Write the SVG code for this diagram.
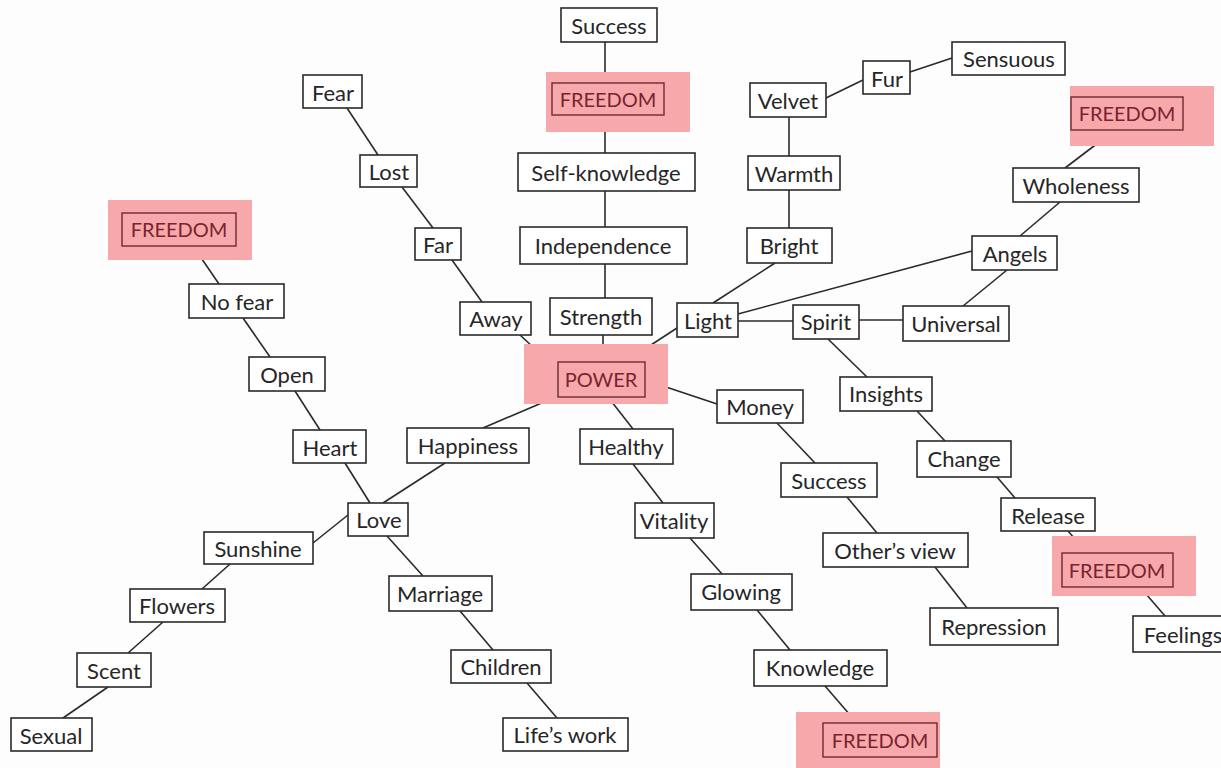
<svg xmlns="http://www.w3.org/2000/svg" width="1221" height="768" viewBox="0 0 1221 768">
<style>
.n rect{fill:#fff;stroke:#2a2a2a;stroke-width:1.6}
.n text{font-family:Lato,"Open Sans",sans-serif;font-size:22px;fill:#262626;text-anchor:middle;dominant-baseline:central}
.f rect.hl{fill:#f7a8ab;stroke:none}
.f rect.bx{fill:#f7a8ab;stroke:#6e2a32;stroke-width:1.4}
.f text{fill:#7a2230;font-size:20px}
.c line{stroke:#2a2a2a;stroke-width:1.6}
</style>
<rect width="1221" height="768" fill="#fdfdfd"/>
<g id="connectors" class="c">
<line x1="605" y1="42" x2="605" y2="83"/>
<line x1="605" y1="115" x2="605" y2="153"/>
<line x1="605" y1="191" x2="605" y2="227"/>
<line x1="605" y1="264" x2="605" y2="298"/>
<line x1="603" y1="335" x2="603" y2="362"/>
<line x1="347" y1="108" x2="378" y2="155"/>
<line x1="402" y1="187" x2="433" y2="228"/>
<line x1="452" y1="260" x2="482" y2="302"/>
<line x1="520" y1="335" x2="560" y2="372"/>
<line x1="677" y1="328" x2="625" y2="362"/>
<line x1="775" y1="263" x2="713" y2="303"/>
<line x1="738" y1="314" x2="972" y2="251"/>
<line x1="738" y1="321" x2="793" y2="321"/>
<line x1="859" y1="320" x2="903" y2="320"/>
<line x1="963" y1="306" x2="1007" y2="270"/>
<line x1="1020" y1="236" x2="1060" y2="202"/>
<line x1="1065" y1="168" x2="1115" y2="130"/>
<line x1="789" y1="117" x2="789" y2="156"/>
<line x1="789" y1="190" x2="789" y2="228"/>
<line x1="826" y1="98" x2="863" y2="80"/>
<line x1="910" y1="72" x2="952" y2="58"/>
<line x1="828" y1="339" x2="867" y2="377"/>
<line x1="917" y1="411" x2="945" y2="441"/>
<line x1="997" y1="477" x2="1015" y2="498"/>
<line x1="1068" y1="531" x2="1087" y2="553"/>
<line x1="1140" y1="587" x2="1165" y2="616"/>
<line x1="645" y1="380" x2="717" y2="404"/>
<line x1="777" y1="423" x2="815" y2="463"/>
<line x1="847" y1="497" x2="877" y2="533"/>
<line x1="935" y1="567" x2="967" y2="608"/>
<line x1="608" y1="397" x2="633" y2="429"/>
<line x1="633" y1="464" x2="663" y2="503"/>
<line x1="690" y1="538" x2="722" y2="574"/>
<line x1="757" y1="610" x2="790" y2="650"/>
<line x1="825" y1="686" x2="857" y2="723"/>
<line x1="565" y1="393" x2="483" y2="428"/>
<line x1="445" y1="463" x2="383" y2="503"/>
<line x1="345" y1="463" x2="370" y2="503"/>
<line x1="295" y1="391" x2="320" y2="430"/>
<line x1="243" y1="318" x2="270" y2="357"/>
<line x1="193" y1="246" x2="219" y2="284"/>
<line x1="348" y1="515" x2="313" y2="543"/>
<line x1="230" y1="564" x2="202" y2="589"/>
<line x1="163" y1="622" x2="128" y2="653"/>
<line x1="108" y1="687" x2="63" y2="718"/>
<line x1="387" y1="536" x2="423" y2="576"/>
<line x1="460" y1="611" x2="493" y2="650"/>
<line x1="527" y1="683" x2="557" y2="718"/>
</g>
<g id="success-top" class="n"><rect x="561" y="8" width="96" height="34"/><text x="609" y="25">Success</text></g>
<g id="freedom-top" class="n f"><rect class="hl" x="546" y="72" width="144" height="60"/><rect class="bx" x="552" y="83" width="112" height="32"/><text x="608" y="99">FREEDOM</text></g>
<g id="self-knowledge" class="n"><rect x="518" y="153" width="177" height="38"/><text x="606" y="172">Self-knowledge</text></g>
<g id="independence" class="n"><rect x="520" y="227" width="167" height="37"/><text x="603" y="245">Independence</text></g>
<g id="strength" class="n"><rect x="550" y="298" width="102" height="37"/><text x="601" y="316">Strength</text></g>
<g id="fear" class="n"><rect x="303" y="75" width="59" height="33"/><text x="333" y="92">Fear</text></g>
<g id="lost" class="n"><rect x="360" y="155" width="57" height="32"/><text x="389" y="171">Lost</text></g>
<g id="far" class="n"><rect x="415" y="228" width="46" height="32"/><text x="438" y="244">Far</text></g>
<g id="away" class="n"><rect x="460" y="302" width="71" height="33"/><text x="496" y="318">Away</text></g>
<g id="freedom-left" class="n f"><rect class="hl" x="108" y="200" width="144" height="60"/><rect class="bx" x="122" y="213" width="114" height="33"/><text x="179" y="229">FREEDOM</text></g>
<g id="no-fear" class="n"><rect x="189" y="284" width="95" height="34"/><text x="237" y="301">No fear</text></g>
<g id="open" class="n"><rect x="249" y="357" width="76" height="34"/><text x="287" y="374">Open</text></g>
<g id="heart" class="n"><rect x="293" y="430" width="73" height="33"/><text x="330" y="447">Heart</text></g>
<g id="love" class="n"><rect x="348" y="503" width="60" height="33"/><text x="379" y="519">Love</text></g>
<g id="happiness" class="n"><rect x="407" y="428" width="122" height="35"/><text x="468" y="445">Happiness</text></g>
<g id="power" class="n f"><rect class="hl" x="524" y="344" width="144" height="60"/><rect class="bx" x="558" y="362" width="87" height="35"/><text x="601" y="379">POWER</text></g>
<g id="light" class="n"><rect x="677" y="303" width="61" height="34"/><text x="708" y="320">Light</text></g>
<g id="velvet" class="n"><rect x="750" y="83" width="76" height="34"/><text x="788" y="100">Velvet</text></g>
<g id="warmth" class="n"><rect x="748" y="156" width="92" height="34"/><text x="794" y="173">Warmth</text></g>
<g id="bright" class="n"><rect x="747" y="228" width="85" height="35"/><text x="789" y="245">Bright</text></g>
<g id="fur" class="n"><rect x="863" y="61" width="47" height="33"/><text x="887" y="78">Fur</text></g>
<g id="sensuous" class="n"><rect x="952" y="42" width="113" height="33"/><text x="1009" y="58">Sensuous</text></g>
<g id="freedom-topright" class="n f"><rect class="hl" x="1070" y="86" width="144" height="60"/><rect class="bx" x="1071" y="97" width="112" height="33"/><text x="1127" y="113">FREEDOM</text></g>
<g id="wholeness" class="n"><rect x="1013" y="168" width="126" height="34"/><text x="1076" y="185">Wholeness</text></g>
<g id="angels" class="n"><rect x="972" y="236" width="85" height="34"/><text x="1015" y="253">Angels</text></g>
<g id="universal" class="n"><rect x="903" y="306" width="106" height="35"/><text x="956" y="323">Universal</text></g>
<g id="spirit" class="n"><rect x="793" y="305" width="66" height="34"/><text x="826" y="321">Spirit</text></g>
<g id="insights" class="n"><rect x="840" y="377" width="92" height="34"/><text x="886" y="393">Insights</text></g>
<g id="change" class="n"><rect x="917" y="441" width="94" height="36"/><text x="964" y="458">Change</text></g>
<g id="release" class="n"><rect x="1001" y="498" width="94" height="33"/><text x="1048" y="515">Release</text></g>
<g id="freedom-right" class="n f"><rect class="hl" x="1052" y="536" width="144" height="60"/><rect class="bx" x="1062" y="553" width="111" height="34"/><text x="1117" y="570">FREEDOM</text></g>
<g id="feelings" class="n"><rect x="1133" y="616" width="95" height="36"/><text x="1183" y="634">Feelings</text></g>
<g id="money" class="n"><rect x="717" y="390" width="86" height="33"/><text x="760" y="406">Money</text></g>
<g id="success-mid" class="n"><rect x="781" y="463" width="96" height="34"/><text x="829" y="480">Success</text></g>
<g id="others-view" class="n"><rect x="823" y="533" width="145" height="34"/><text x="895" y="550">Other’s view</text></g>
<g id="repression" class="n"><rect x="930" y="608" width="128" height="37"/><text x="994" y="626">Repression</text></g>
<g id="healthy" class="n"><rect x="580" y="429" width="93" height="35"/><text x="626" y="446">Healthy</text></g>
<g id="vitality" class="n"><rect x="635" y="503" width="79" height="35"/><text x="674" y="520">Vitality</text></g>
<g id="glowing" class="n"><rect x="691" y="574" width="101" height="36"/><text x="741" y="591">Glowing</text></g>
<g id="knowledge" class="n"><rect x="754" y="650" width="133" height="36"/><text x="820" y="667">Knowledge</text></g>
<g id="freedom-bottom" class="n f"><rect class="hl" x="796" y="712" width="144" height="56"/><rect class="bx" x="823" y="723" width="114" height="34"/><text x="880" y="740">FREEDOM</text></g>
<g id="sunshine" class="n"><rect x="204" y="532" width="109" height="32"/><text x="258" y="548">Sunshine</text></g>
<g id="flowers" class="n"><rect x="130" y="589" width="95" height="33"/><text x="177" y="605">Flowers</text></g>
<g id="scent" class="n"><rect x="77" y="653" width="74" height="34"/><text x="114" y="670">Scent</text></g>
<g id="sexual" class="n"><rect x="11" y="718" width="81" height="33"/><text x="51" y="735">Sexual</text></g>
<g id="marriage" class="n"><rect x="389" y="576" width="103" height="35"/><text x="440" y="593">Marriage</text></g>
<g id="children" class="n"><rect x="451" y="650" width="100" height="33"/><text x="501" y="666">Children</text></g>
<g id="lifes-work" class="n"><rect x="503" y="718" width="125" height="33"/><text x="565" y="734">Life’s work</text></g>
</svg>
